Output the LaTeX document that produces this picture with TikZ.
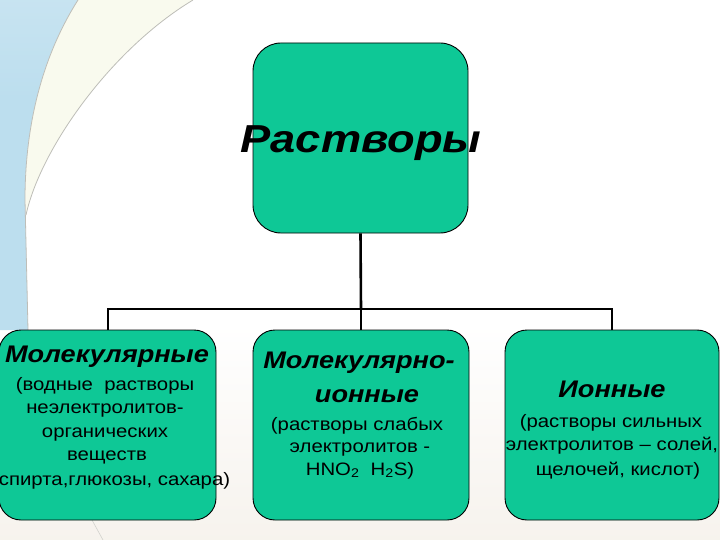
\documentclass[tikz,border=0pt]{standalone}
\usepackage{fontspec}
\setmainfont[FakeStretch=1.13]{Liberation Sans}
\newfontfamily\titlefont[FakeStretch=1.16]{Liberation Sans}
\definecolor{teal1}{RGB}{14,200,150}
\definecolor{bgtop}{RGB}{216,232,238}
\definecolor{bgbot}{RGB}{236,228,216}
\definecolor{leftblue}{RGB}{188,222,238}
\definecolor{arcgray}{RGB}{190,190,184}
\definecolor{paleband}{RGB}{249,250,238}
\pgfdeclareverticalshading{bgshade}{100bp}{color(0bp)=(bgbot); color(30bp)=(bgbot!35!white); color(45bp)=(white); color(78bp)=(white); color(100bp)=(bgtop)}
\pgfdeclareverticalshading{leftshade}{100bp}{color(0bp)=(bgbot!45!white); color(8bp)=(bgbot!45!white); color(22bp)=(leftblue); color(60bp)=(leftblue); color(100bp)=(leftblue!55!white)}
\tikzset{
  box/.style={draw=black, line width=0.9pt, fill=teal1, inner sep=0pt},
  conn/.style={draw=black, line width=2pt},
  ttl/.style={anchor=base, inner sep=0pt, font=\fontsize{24}{28}\selectfont\bfseries\itshape},
  txt/.style={anchor=base, inner sep=0pt, font=\fontsize{18}{22}\selectfont},
}
\begin{document}
\begin{tikzpicture}[x=1pt,y=-1pt]
\useasboundingbox (0,0) rectangle (720,540);
% background
\shade[shading=bgshade] (0,0) rectangle (720,540);
\shade[shading=leftshade] (0,0) -- (78,0) .. controls (40,60) and (25,130) .. (25,200) -- (28,330) -- (0,330) -- cycle;
\fill[paleband] (78,0) .. controls (40,60) and (25,130) .. (25,200) -- (26,215) .. controls (40,150) and (110,50) .. (193,0) -- cycle;
\draw[arcgray, line width=0.8pt] (78,0) .. controls (40,60) and (25,130) .. (25,200) -- (28,330);
\draw[arcgray, line width=0.8pt] (193,0) .. controls (110,50) and (40,150) .. (26,215);
\draw[arcgray!70, line width=0.6pt] (92,520) -- (103,540);
% boxes
\node[box, rounded corners=28pt, minimum width=215pt, minimum height=190pt] (top) at (360.5,138) {};
\node[box, rounded corners=22pt, minimum width=217pt, minimum height=190pt] (left) at (107.5,425) {};
\node[box, rounded corners=22pt, minimum width=216pt, minimum height=190pt] (mid) at (361,425) {};
\node[box, rounded corners=22pt, minimum width=214pt, minimum height=190pt] (right) at (612,425) {};
% connectors
\coordinate (j) at (361,309);
\draw[conn, line width=2.6pt] (top.south) -- (j);
\draw[conn] (left.north) |- (j) -| (right.north);
\draw[conn] (j) -- (mid.north);
% top title
\node[anchor=base, inner sep=0pt, font=\titlefont\fontsize{39}{44}\selectfont\bfseries\itshape] (ttop) at (361,153) {Растворы};
% left texts
\node[ttl] (l0) at (107,362) {Молекулярные};
\node[txt] (l1) at (105,390) {(водные\ \ растворы};
\node[txt] (l2) at (105,413) {неэлектролитов-};
\node[txt] (l3) at (105,437) {органических};
\node[txt] (l4) at (107,460) {веществ};
\node[txt] (l5) at (114.5,485) {спирта,глюкозы, сахара)};
% middle texts
\node[ttl] (m0) at (359,368) {Молекулярно-};
\node[ttl] (m1) at (367,402) {ионные};
\node[txt] (m2) at (357,430) {(растворы слабых};
\node[txt] (m3) at (360,452) {электролитов -};
\node[txt] (m4) at (360,475) {HNO\textsubscript{2}\ \ H\textsubscript{2}S)};
% right texts
\node[ttl] (r0) at (612,397) {Ионные};
\node[txt] (r1) at (611,427) {(растворы сильных};
\node[txt] (r2) at (612,450) {электролитов – солей,};
\node[txt] (r3) at (618,475) {щелочей, кислот)};
\end{tikzpicture}
\end{document}
